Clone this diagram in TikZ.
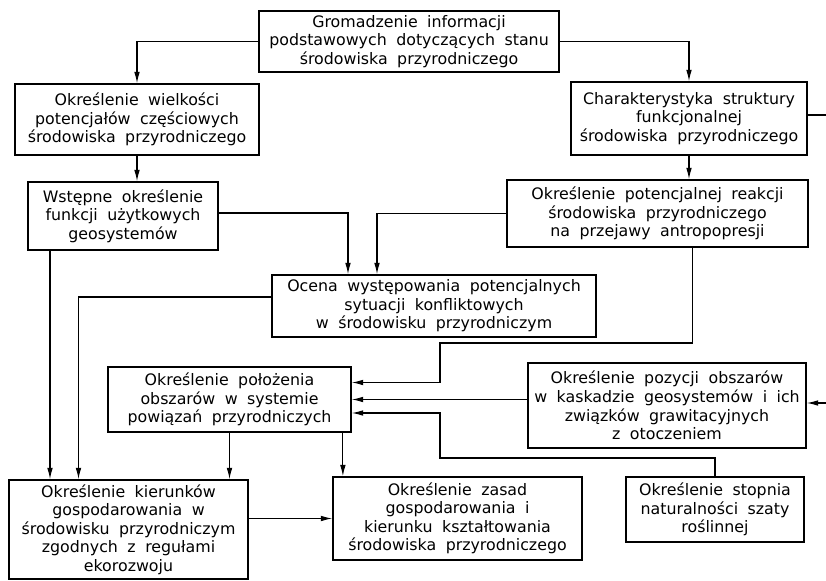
\documentclass[tikz,border=0pt]{standalone}
\usepackage{fontspec}
\setmainfont{DejaVu Sans}
\usepackage{tikz}
\usetikzlibrary{arrows.meta,calc}

\newcommand{\blokfont}{\fontsize{13.5}{15.8}\selectfont\spaceskip=0.6em\relax}

\tikzset{
  blok/.style={draw, line width=1.5pt, align=center, inner sep=0pt,
    font=\blokfont},
  strz/.style={line width=0.9pt, -{Latex[length=3.4mm,width=1.7mm]}},
  linia/.style={line width=0.9pt}
}

\begin{document}
\begin{tikzpicture}[x=0.03cm, y=-0.03cm]
\useasboundingbox (0,0) rectangle (826,581);

\node[blok, minimum width=9cm, minimum height=1.83cm] (gather) at (409,41.5)
  {Gromadzenie informacji\\podstawowych dotyczących stanu\\środowiska przyrodniczego};
\node[blok, minimum width=7.32cm, minimum height=2.13cm] (wielk) at (137,119.5)
  {Określenie wielkości\\potencjałów częściowych\\środowiska przyrodniczego};
\node[blok, minimum width=7.08cm, minimum height=2.19cm] (charakt) at (689,118.5)
  {Charakterystyka struktury\\funkcjonalnej\\środowiska przyrodniczego};
\node[blok, minimum width=5.7cm, minimum height=2.04cm] (wstep) at (123,216)
  {Wstępne określenie\\funkcji użytkowych\\geosystemów};
\node[blok, minimum width=9.03cm, minimum height=2.01cm] (reakcja) at (657.5,213.5)
  {Określenie potencjalnej reakcji\\środowiska przyrodniczego\\na przejawy antropopresji};
\node[blok, minimum width=9.72cm, minimum height=1.86cm] (ocena) at (434,306)
  {Ocena występowania potencjalnych\\sytuacji konfliktowych\\w środowisku przyrodniczym};
\node[blok, minimum width=7.29cm, minimum height=1.95cm] (polozenie) at (229.5,399.5)
  {Określenie położenia\\obszarów w systemie\\powiązań przyrodniczych};
\node[blok, minimum width=8.34cm, minimum height=2.55cm] (pozycja) at (667,405.5)
  {Określenie pozycji obszarów\\w kaskadzie geosystemów i ich\\związków grawitacyjnych\\z otoczeniem};
\node[blok, minimum width=7.17cm, minimum height=2.97cm] (kierunki) at (128.5,529.5)
  {Określenie kierunków\\gospodarowania w\\środowisku przyrodniczym\\zgodnych z regułami\\ekorozwoju};
\node[blok, minimum width=7.47cm, minimum height=2.49cm] (zasady) at (457.5,518.5)
  {Określenie zasad\\gospodarowania i\\kierunku kształtowania\\środowiska przyrodniczego};
\node[blok, minimum width=5.34cm, minimum height=1.95cm] (stopien) at (715,509.5)
  {Określenie stopnia\\naturalności szaty\\roślinnej};

\coordinate (wyj) at (826,115);
\coordinate (wej) at (826,403);
\coordinate (k1) at (440,343);
\coordinate (k2) at (440,458);

\draw[strz] (gather.west) -| (wielk.north);
\draw[strz] (gather.east) -| (charakt.north);
\draw[strz] (wielk.south) -- (wielk.south |- wstep.north);
\draw[strz] (charakt.south) -- (charakt.south |- reakcja.north);
\draw[linia] (charakt.east |- wyj) -- (wyj);
\draw[strz] ($(wstep.east)+(0,-3)$) -| ($(ocena.north)+(-86,0)$);
\draw[strz] (reakcja.west) -| ($(ocena.north)+(-57,0)$);
\draw[strz] ($(ocena.west)+(0,-9)$) -| ($(kierunki.north)+(-50,0)$);
\draw[strz] ($(wstep.south)+(-73,0)$) coordinate (d1) -- (d1 |- kierunki.north);
\draw[strz] ($(reakcja.south)+(35,0)$) |- (k1) |- ($(polozenie.east)+(0,-17)$);
\draw[strz] (pozycja.west |- polozenie.east) -- (polozenie.east);
\draw[strz] (stopien.north) |- (k2) |- ($(polozenie.east)+(0,13.5)$);
\draw[strz] (wej) -- (wej -| pozycja.east);
\draw[strz] (polozenie.south) -- (polozenie.south |- kierunki.north);
\draw[strz] ($(polozenie.south east)+(-9,0)$) coordinate (d2) -- (d2 |- zasady.north);
\draw[strz] (kierunki.east |- zasady.west) -- (zasady.west);
\end{tikzpicture}
\end{document}
